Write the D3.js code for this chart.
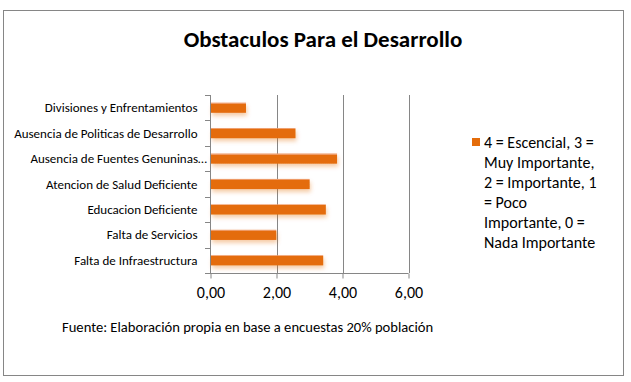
<!DOCTYPE html>
<html>
<head>
<meta charset="utf-8">
<script src="https://cdn.jsdelivr.net/npm/d3@7"></script>
<style>
  html, body { margin: 0; padding: 0; background: #fff; }
  svg { display: block; }
  text { font-family: Carlito, Calibri, Lato, "Open Sans", sans-serif; fill: #000; }
</style>
</head>
<body>
<svg id="chart" width="631" height="382"></svg>
<script>
const categories = [
  "Divisiones y Enfrentamientos",
  "Ausencia de Politicas de Desarrollo",
  "Ausencia de Fuentes Genuninas…",
  "Atencion de Salud Deficiente",
  "Educacion Deficiente",
  "Falta de Servicios",
  "Falta de Infraestructura"
];
const values = [1.06, 2.56, 3.82, 2.99, 3.48, 1.98, 3.40];
const xTicks = [0, 2, 4, 6];
const legendLines = [
  "4 = Escencial, 3 =",
  "Muy Importante,",
  "2 = Importante, 1",
  "= Poco",
  "Importante, 0 =",
  "Nada Importante"
];
const title = "Obstaculos Para el Desarrollo";
const source = "Fuente: Elaboración propia en base a encuestas 20% población";

const svg = d3.select("#chart");
const axisColor = "#868686";
const barColor = "#E46C0A";

// outer border
svg.append("rect").attr("x", 3.5).attr("y", 10.5).attr("width", 620).attr("height", 365)
  .attr("fill", "#fff").attr("stroke", axisColor).attr("stroke-width", 1);

const defs = svg.append("defs");
const f = defs.append("filter").attr("id", "shadow")
  .attr("x", "-10%").attr("y", "-50%").attr("width", "130%").attr("height", "250%");
f.append("feDropShadow").attr("dx", 1).attr("dy", 3).attr("stdDeviation", 2)
  .attr("flood-color", barColor).attr("flood-opacity", 0.35);
const g = defs.append("linearGradient").attr("id", "barGrad")
  .attr("x1", 0).attr("y1", 0).attr("x2", 0).attr("y2", 1);
g.append("stop").attr("offset", "0%").attr("stop-color", "#EE9A66");
g.append("stop").attr("offset", "10%").attr("stop-color", "#EE9A66");
g.append("stop").attr("offset", "10%").attr("stop-color", barColor);
g.append("stop").attr("offset", "100%").attr("stop-color", barColor);

const x = d3.scaleLinear().domain([0, 6]).range([210.5, 408.5]);
const y = d3.scaleBand().domain(categories).range([95, 273]).paddingInner(0.6).paddingOuter(0.3);

// title
svg.append("text").attr("x", 323).attr("y", 47).attr("text-anchor", "middle")
  .attr("font-size", 23).attr("font-weight", "bold").text(title);

// gridlines
svg.append("g").selectAll("line").data(xTicks.filter(d => d > 0)).join("line")
  .attr("x1", d => Math.round(x(d)) + 0.5).attr("x2", d => Math.round(x(d)) + 0.5)
  .attr("y1", 95).attr("y2", 273)
  .attr("stroke", axisColor).attr("stroke-width", 1);

// bars
svg.append("g").selectAll("rect").data(categories).join("rect")
  .attr("x", x(0) + 0.5)
  .attr("y", d => y(d))
  .attr("width", (d, i) => x(values[i]) - x(0))
  .attr("height", y.bandwidth())
  .attr("fill", "url(#barGrad)")
  .attr("filter", "url(#shadow)");

// y axis
const yAxisBand = d3.scaleBand().domain(categories).range([95, 273]);
const yAx = svg.append("g");
yAx.append("line").attr("x1", 210.5).attr("x2", 210.5).attr("y1", 95).attr("y2", 273.5)
  .attr("stroke", axisColor);
const bounds = categories.map(c => yAxisBand(c)).concat([273]);
yAx.selectAll("line.tk").data(bounds).join("line").attr("class", "tk")
  .attr("x1", 205).attr("x2", 210.5)
  .attr("y1", d => Math.round(d) + 0.5).attr("y2", d => Math.round(d) + 0.5)
  .attr("stroke", axisColor);
yAx.selectAll("text").data(categories).join("text")
  .attr("x", d => d.endsWith("…") ? 207 : 197.5)
  .attr("y", d => yAxisBand(d) + yAxisBand.bandwidth() / 2 + 4.5)
  .attr("text-anchor", "end").attr("font-size", 13).text(d => d);

// x axis
const xAxis = d3.axisBottom(x).tickValues(xTicks).tickSize(5).tickPadding(8)
  .tickFormat(d => d3.format(".2f")(d).replace(".", ","));
const xg = svg.append("g").attr("transform", "translate(0,273.5)").call(xAxis);
xg.select(".domain").attr("stroke", axisColor).attr("d", "M205,0H408.5");
xg.selectAll(".tick line").attr("stroke", axisColor);
xg.selectAll(".tick text").attr("font-size", 16).attr("fill", "#000")
  .style("font-family", "Carlito, Calibri, Lato, sans-serif");

// legend
svg.append("rect").attr("x", 472).attr("y", 138).attr("width", 8).attr("height", 8).attr("fill", barColor);
svg.append("g").selectAll("text").data(legendLines).join("text")
  .attr("x", 484).attr("y", (d, i) => 147.5 + i * 20)
  .attr("font-size", 16).text(d => d);

// source
svg.append("text").attr("x", 62).attr("y", 331.5).attr("font-size", 14.6).text(source);
</script>
</body>
</html>
